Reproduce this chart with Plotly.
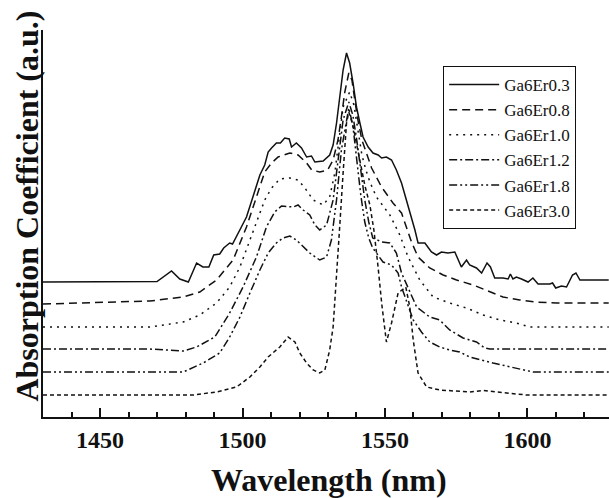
import plotly.graph_objects as go

# ---- data (wavelength in nm, absorption coefficient in a.u., curves offset as in the figure) ----
names = ["Ga6Er0.3", "Ga6Er0.8", "Ga6Er1.0", "Ga6Er1.2", "Ga6Er1.8", "Ga6Er3.0"]

wl_03 = [1430, 1467.5, 1470.0, 1475.1, 1478.0, 1481.0, 1483.9, 1486.1, 1488.2, 1489.9, 1492.0, 1493.4,
         1495.5, 1496.5, 1497.9, 1499.6, 1501.4, 1502.6, 1504.3, 1506.1, 1507.8, 1509.0, 1510.2, 1511.9,
         1513.3, 1514.8, 1516.4, 1517.2, 1518.9, 1520.7, 1522.5, 1524.2, 1525.4, 1528.3, 1530.6, 1531.8,
         1533.0, 1534.1, 1535.3, 1536.5, 1537.6, 1538.8, 1540.0, 1541.2, 1542.3, 1544.1, 1545.8, 1547.6,
         1548.8, 1550.5, 1552.3, 1554.0, 1555.8, 1557.5, 1559.3, 1560.5, 1561.6, 1564.0, 1566.3, 1568.1,
         1569.8, 1572.1, 1574.5, 1576.8, 1578.6, 1579.7, 1582.1, 1583.9, 1585.8, 1587.0, 1588.5, 1591.4,
         1593.2, 1594.0, 1594.9, 1596.1, 1597.9, 1600.2, 1601.9, 1603.7, 1607.8, 1608.8, 1609.9, 1611.9,
         1613.7, 1615.8, 1617.0, 1618.4, 1628.5]
ab_03 = [1.35, 1.36, 1.355, 1.46, 1.38, 1.35, 1.54, 1.50, 1.50, 1.62, 1.63, 1.69,
         1.74, 1.73, 1.80, 1.90, 2.00, 2.11, 2.28, 2.42, 2.52, 2.65, 2.69, 2.74,
         2.74, 2.79, 2.78, 2.70, 2.74, 2.69, 2.60, 2.61, 2.55, 2.56, 2.62, 2.72,
         2.94, 3.20, 3.47, 3.64, 3.54, 3.34, 3.10, 2.94, 2.80, 2.70, 2.64, 2.62,
         2.59, 2.60, 2.57, 2.47, 2.34, 2.17, 2.00, 1.87, 1.74, 1.74, 1.65, 1.62,
         1.65, 1.64, 1.65, 1.50, 1.57, 1.52, 1.49, 1.44, 1.54, 1.50, 1.39, 1.39,
         1.38, 1.43, 1.38, 1.40, 1.38, 1.35, 1.39, 1.33, 1.33, 1.34, 1.29, 1.31,
         1.30, 1.42, 1.44, 1.37, 1.37]

wl_08 = [1430, 1461.5, 1467.5, 1479.2, 1485.0, 1490.9, 1496.7, 1501.4, 1504.9, 1507.8, 1510.2, 1512.5,
         1516.6, 1519.5, 1522.5, 1524.3, 1527.1, 1529.9, 1531.8, 1533.5, 1534.7, 1535.9, 1537.3, 1538.4,
         1539.4, 1540.5, 1541.9, 1543.3, 1545.3, 1548.8, 1552.8, 1555.8, 1559.3, 1561.6, 1565.7, 1570.4,
         1575.1, 1580.9, 1586.8, 1591.4, 1597.3, 1602.6, 1610.2, 1628.5]
ab_08 = [1.13, 1.15, 1.16, 1.20, 1.25, 1.37, 1.57, 1.90, 2.20, 2.45, 2.54, 2.60,
         2.64, 2.62, 2.54, 2.47, 2.45, 2.47, 2.57, 2.77, 3.00, 3.25, 3.44, 3.37,
         3.17, 2.97, 2.77, 2.65, 2.49, 2.30, 2.14, 2.04, 1.75, 1.60, 1.49, 1.42,
         1.37, 1.32, 1.25, 1.20, 1.17, 1.15, 1.14, 1.14]

wl_10 = [1430, 1467.5, 1479.2, 1485.0, 1490.9, 1495.5, 1499.1, 1502.6, 1505.5, 1507.8, 1510.2, 1513.1,
         1516.6, 1519.5, 1521.9, 1524.8, 1528.3, 1530.6, 1532.4, 1533.9, 1535.3, 1537.6, 1539.1, 1540.5,
         1541.9, 1543.3, 1544.7, 1547.0, 1551.7, 1555.2, 1558.1, 1562.2, 1566.9, 1572.7, 1578.6, 1584.4,
         1590.3, 1596.1, 1600.8, 1628.5]
ab_10 = [0.90, 0.90, 0.95, 1.02, 1.14, 1.30, 1.50, 1.77, 2.00, 2.17, 2.29, 2.38,
         2.39, 2.37, 2.29, 2.17, 2.12, 2.20, 2.44, 2.77, 3.10, 3.25, 3.12, 2.87,
         2.62, 2.47, 2.35, 2.20, 2.02, 1.82, 1.60, 1.37, 1.20, 1.14, 1.09, 1.02,
         0.97, 0.94, 0.90, 0.90]

wl_12 = [1430, 1467.5, 1479.2, 1483.9, 1490.3, 1495.5, 1500.2, 1504.9, 1508.4, 1511.3, 1513.7, 1517.8,
         1519.5, 1521.3, 1523.6, 1525.4, 1527.1, 1529.5, 1531.8, 1533.5, 1535.3, 1537.3, 1538.7, 1540.1,
         1541.5, 1542.9, 1544.3, 1545.7, 1548.9, 1551.7, 1554.0, 1555.8, 1561.1, 1565.7, 1569.2, 1572.7,
         1577.4, 1582.1, 1585.0, 1586.8, 1628.5]
ab_12 = [0.68, 0.68, 0.66, 0.70, 0.80, 1.04, 1.30, 1.60, 1.90, 2.05, 2.11, 2.10,
         2.12, 2.07, 2.02, 1.92, 1.87, 1.92, 2.17, 2.54, 2.97, 3.15, 3.02, 2.77,
         2.47, 2.17, 1.95, 1.79, 1.75, 1.74, 1.64, 1.44, 1.10, 1.00, 0.97, 0.87,
         0.79, 0.75, 0.69, 0.68, 0.68]

wl_18 = [1430, 1479.2, 1486.2, 1492.0, 1495.5, 1499.1, 1502.6, 1506.1, 1509.0, 1511.9, 1514.2, 1516.6,
         1518.9, 1521.3, 1523.6, 1527.1, 1529.5, 1531.2, 1533.0, 1534.7, 1537.3, 1538.7, 1540.1, 1541.5,
         1542.9, 1544.3, 1545.7, 1549.3, 1552.3, 1554.6, 1555.8, 1557.5, 1559.9, 1562.8, 1565.7, 1569.2,
         1572.7, 1576.2, 1579.7, 1587.9, 1596.1, 1601.9, 1628.5]
ab_18 = [0.45, 0.45, 0.54, 0.64, 0.80, 1.00, 1.24, 1.47, 1.64, 1.74, 1.79, 1.81,
         1.77, 1.70, 1.64, 1.57, 1.60, 1.77, 2.17, 2.67, 3.09, 2.92, 2.57, 2.22,
         1.95, 1.79, 1.69, 1.55, 1.52, 1.44, 1.30, 1.17, 0.97, 0.85, 0.75, 0.70,
         0.67, 0.65, 0.60, 0.54, 0.49, 0.45, 0.45]

wl_30 = [1430, 1482.7, 1490.9, 1497.9, 1502.6, 1506.1, 1509.0, 1513.1, 1516.0, 1518.4, 1520.1, 1522.5,
         1524.8, 1527.1, 1528.9, 1530.6, 1531.8, 1533.0, 1534.1, 1535.3, 1536.5, 1537.3, 1538.7, 1540.1,
         1541.5, 1542.9, 1544.7, 1546.1, 1547.5, 1548.9, 1550.5, 1552.3, 1554.6, 1557.3, 1558.7, 1559.9,
         1561.6, 1564.6, 1569.2, 1579.7, 1584.4, 1590.3, 1599.6, 1628.5]
ab_30 = [0.22, 0.22, 0.25, 0.30, 0.40, 0.50, 0.60, 0.70, 0.80, 0.75, 0.64, 0.54,
         0.47, 0.44, 0.47, 0.67, 0.90, 1.37, 1.90, 2.44, 2.94, 3.05, 2.92, 2.72,
         2.52, 2.32, 2.12, 1.87, 1.52, 1.12, 0.75, 0.94, 1.24, 1.30, 1.10, 0.77,
         0.44, 0.30, 0.27, 0.25, 0.265, 0.25, 0.22, 0.22]

wavelengths = [wl_03, wl_08, wl_10, wl_12, wl_18, wl_30]
absorption = [ab_03, ab_08, ab_10, ab_12, ab_18, ab_30]
dashes = ["solid", "8px,5px", "2px,5px", "8px,3px,2px,3px", "8px,3px,2px,3px,2px,3px", "4px,3px"]

x_ticks = [1450, 1500, 1550, 1600]

SERIF = "Liberation Serif, serif"
INK = "#111111"

fig = go.Figure()
for nm, wl, ab, ds in zip(names, wavelengths, absorption, dashes):
    fig.add_trace(go.Scatter(x=wl, y=ab, mode="lines", name=nm,
                             line=dict(color=INK, width=1.5, dash=ds)))

fig.update_layout(
    width=609, height=498,
    margin=dict(l=43, r=0, t=30, b=81),
    paper_bgcolor="white", plot_bgcolor="white",
    font=dict(family=SERIF, color=INK),
    showlegend=True,
    legend=dict(x=0.707, y=0.907, xanchor="left", yanchor="top",
                bordercolor=INK, borderwidth=1, bgcolor="white",
                font=dict(family=SERIF, size=17, color=INK),
                itemwidth=50, tracegroupgap=0),
    annotations=[
        dict(text="<b>Wavelength (nm)</b>", xref="paper", yref="paper",
             x=0.505, y=-0.163, xanchor="center", yanchor="middle", showarrow=False,
             font=dict(family=SERIF, size=32, color=INK)),
        dict(text="<b>Absorption Coefficient (a.u.)</b>", xref="paper", yref="paper",
             x=-0.028, y=0.544, xanchor="center", yanchor="middle", showarrow=False,
             textangle=-90, font=dict(family=SERIF, size=32, color=INK)),
    ],
)

fig.update_xaxes(range=[1430, 1628.6], showgrid=False, zeroline=False,
                 showline=True, linecolor=INK, linewidth=2,
                 tickmode="array", tickvals=x_ticks, ticktext=[f"<b>{t}</b>" for t in x_ticks],
                 ticks="inside", ticklen=9, tickwidth=1.5, tickcolor=INK,
                 ticklabelstandoff=0,
                 tickfont=dict(family=SERIF, size=24, color=INK),
                 minor=dict(dtick=10, tick0=1430, ticks="inside", ticklen=5, tickwidth=1.5, tickcolor=INK))
fig.update_yaxes(range=[0, 3.87], showgrid=False, zeroline=False,
                 showline=True, linecolor=INK, linewidth=2,
                 showticklabels=False, ticks="")

fig.write_html("out.html")
